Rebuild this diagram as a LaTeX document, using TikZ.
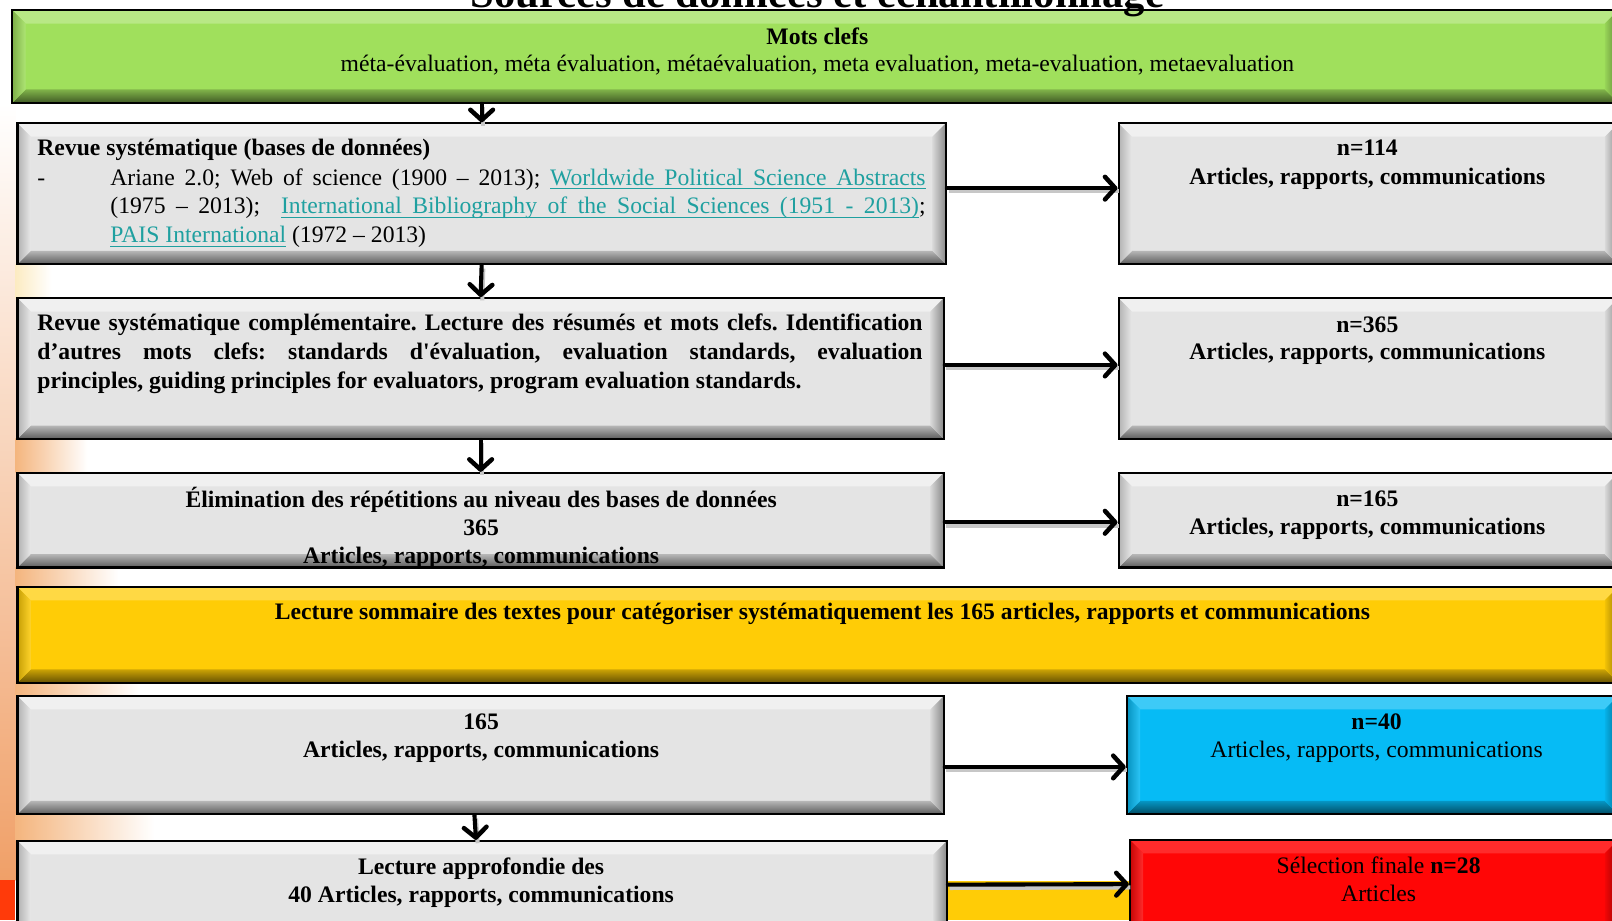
\documentclass[tikz,border=0pt]{standalone}
\usepackage{fontspec}
\setmainfont{Liberation Serif}
\usetikzlibrary{arrows.meta,calc,fit}
\definecolor{boxgray}{HTML}{E4E4E4}
\definecolor{boxgreen}{HTML}{A0E05C}
\definecolor{boxyellow}{HTML}{FFCC06}
\definecolor{boxblue}{HTML}{06BBF5}
\definecolor{boxred}{HTML}{FF0606}
\definecolor{linkc}{HTML}{1FA0A0}
\definecolor{stripmid}{HTML}{F8CDA2}
\definecolor{stripbot}{HTML}{F0A068}
\definecolor{stripred}{HTML}{FF3A0A}
\definecolor{glowA}{HTML}{F4B57E}
\definecolor{glowB}{HTML}{FCEBC2}
\newcommand\lkw[1]{\setbox0\hbox{#1}\rlap{\rule[-2.1pt]{\wd0}{0.6pt}}\box0}
\newcommand\lksp{\leaders\hrule height -1.5pt depth 2.1pt\hskip\fontdimen2\font plus\fontdimen3\font minus\fontdimen4\font\relax}
\def\bvw{6.5pt}
\frenchspacing
\tikzset{
  bevel/.style 2 args={fill=#1, draw=black, line width=1pt, inner sep=0pt,
    path picture={
      \path (path picture bounding box.south west) coordinate (bvsw)
            (path picture bounding box.north east) coordinate (bvne);
      \fill[#1!#2!white] (bvsw|-bvne) -- (bvne) -- ($(bvne)+(-\bvw,-\bvw)$) -- ($(bvsw|-bvne)+(\bvw,-\bvw)$) -- cycle;
      \shade[top color=#1!80!black, bottom color=#1!40!black] (bvsw) -- (bvsw-|bvne) -- ($(bvsw-|bvne)+(-\bvw,\bvw)$) -- ($(bvsw)+(\bvw,\bvw)$) -- cycle;
      \shade[left color=#1!78!black, right color=#1!85!white] (bvsw) -- (bvsw|-bvne) -- ($(bvsw|-bvne)+(\bvw,-\bvw)$) -- ($(bvsw)+(\bvw,\bvw)$) -- cycle;
      \shade[left color=#1!95!black, right color=#1!60!black] (bvsw-|bvne) -- (bvne) -- ($(bvne)+(-\bvw,-\bvw)$) -- ($(bvsw-|bvne)+(-\bvw,\bvw)$) -- cycle;
    }},
  txt/.style={inner sep=0pt, anchor=base, font=\fontsize{11.5pt}{14pt}\selectfont},
  txtb/.style={txt, font=\fontsize{11.5pt}{14pt}\selectfont\bfseries},
  flow/.style={line width=2pt, line cap=round, -{Straight Barb[length=5pt,width=11pt,line width=2.2pt,round]},
    preaction={draw=black!22, line width=2pt, -, transform canvas={shift={(0.8pt,-1.6pt)}}}},
  glow/.style={left color=glowA, middle color=glowB, right color=white}
}
\begin{document}
\begin{tikzpicture}[x=0.5pt,y=-0.5pt]
\useasboundingbox (0,0) rectangle (1568,895);
\begin{scope}
\clip (0,0) rectangle (1568,895);
\fill[white] (0,0) rectangle (1568,895);
% slide background
\shade[top color=white, middle color=stripmid, bottom color=stripbot] (0,100) rectangle (15,856);
\fill[stripred] (0,856) rectangle (15,895);
\shade[left color=glowB, right color=white] (15,257) rectangle (50,290);
\shade[glow] (15,427) rectangle (85,460);
\shade[glow] (15,552) rectangle (115,571);
\shade[glow] (15,664) rectangle (135,677);
\shade[glow] (15,792) rectangle (150,818);
\fill[boxyellow] (921,857) rectangle (1099,895);

% boxes
\node[bevel={boxgreen}{75}, fit={(12,10) (1574,100)}] (green) {};
\node[bevel={boxgray}{55}, fit={(17,120) (920,257)}] (b2) {};
\node[bevel={boxgray}{55}, fit={(1088,120) (1574,257)}] (n114) {};
\node[bevel={boxgray}{55}, fit={(17,290) (918,427)}] (b3) {};
\node[bevel={boxgray}{55}, fit={(1088,290) (1574,427)}] (n365) {};
\node[bevel={boxgray}{55}, fit={(17,460) (918,552)}] (b4) {};
\node[bevel={boxgray}{55}, fit={(1088,460) (1574,552)}] (n165) {};
\node[bevel={boxyellow}{75}, fit={(17,571) (1574,664)}] (yel) {};
\node[bevel={boxgray}{55}, fit={(17,677) (918,792)}] (b5) {};
\node[bevel={boxblue}{78}, fit={(1096,677) (1574,792)}] (blue) {};
\node[bevel={boxgray}{55}, fit={(17,818) (921,935)}] (b6) {};
\node[bevel={boxred}{85}, fit={(1099,817) (1574,935)}] (red) {};

% title
\node[inner sep=0pt, anchor=base, font=\fontsize{20.75pt}{24pt}\selectfont\bfseries] (title) at (795,7) {Sources de données et échantillonnage};

% green
\node[txtb] (g1) at (795,43) {Mots clefs};
\node[txt] (g2) at (795,70) {méta-évaluation, méta évaluation, métaévaluation, meta evaluation, meta-evaluation, metaevaluation};

% b2
\node[txtb, anchor=base west] (r1) at (36,151) {Revue systématique (bases de données)};
\node[txt, anchor=base west] (rdash) at (36,180) {-};
\node[txt, anchor=base west] (r2) at (107,180) {\makebox[396.5pt][s]{Ariane 2.0; Web of science (1900 – 2013); \textcolor{linkc}{\lkw{Worldwide}\lksp\lkw{Political}\lksp\lkw{Science}\lksp\lkw{Abstracts}}}};
\node[txt, anchor=base west] (r3) at (107,208) {\makebox[396.5pt][s]{(1975 – 2013);\ \ \textcolor{linkc}{\lkw{International}\lksp\lkw{Bibliography}\lksp\lkw{of}\lksp\lkw{the}\lksp\lkw{Social}\lksp\lkw{Sciences}\lksp\lkw{(1951}\lksp\lkw{-}\lksp\lkw{2013)}};}};
\node[txt, anchor=base west] (r4) at (107,236) {\textcolor{linkc}{\lkw{PAIS}\lksp\lkw{International}} (1972 – 2013)};

% n114
\node[txtb] (n114a) at (1330,151) {n=114};
\node[txtb] (n114b) at (1330,179) {Articles, rapports, communications};

% b3
\node[txtb, anchor=base west] (c1) at (36,321) {\makebox[430.5pt][s]{Revue systématique complémentaire. Lecture des résumés et mots clefs. Identification}};
\node[txtb, anchor=base west] (c2) at (36,350) {\makebox[430.5pt][s]{d’autres mots clefs: standards d\textquotesingle évaluation, evaluation standards, evaluation}};
\node[txtb, anchor=base west] (c3) at (36,378) {principles, guiding principles for evaluators, program evaluation standards.};

% n365
\node[txtb] (n365a) at (1330,323) {n=365};
\node[txtb] (n365b) at (1330,350) {Articles, rapports, communications};

% b4
\node[txtb] (e1) at (468,494) {Élimination des répétitions au niveau des bases de données};
\node[txtb] (e2) at (468,521) {365};
\node[txtb] (e3) at (468,548) {Articles, rapports, communications};

% n165
\node[txtb] (n165a) at (1330,493) {n=165};
\node[txtb] (n165b) at (1330,520) {Articles, rapports, communications};

% yellow
\node[txtb] (y1) at (800,603) {Lecture sommaire des textes pour catégoriser systématiquement les 165 articles, rapports et communications};

% b5
\node[txtb] (f1) at (468,710) {165};
\node[txtb] (f2) at (468,737) {Articles, rapports, communications};

% blue
\node[txtb] (bl1) at (1339,710) {n=40};
\node[txt] (bl2) at (1339,737) {Articles, rapports, communications};

% b6
\node[txtb] (h1) at (468,851) {Lecture approfondie des};
\node[txtb] (h2) at (468,878) {40 Articles, rapports, communications};

% red
\node[txt] (rd1) at (1341,850) {Sélection finale \textbf{n=28}};
\node[txt] (rd2) at (1341,877) {Articles};

% connectors
\draw[flow] (b2.north |- green.south) -- (b2.north);
\draw[flow] (b2.south) -- (b3.north);
\draw[flow] (b3.south) -- (b4.north);
\draw[flow] ([xshift=-3pt]b5.south) -- ([xshift=-3pt]b6.north);
\draw[flow] ([yshift=2.75pt]b2.east) -- ([yshift=2.75pt]n114.west);
\draw[flow] ([yshift=1.75pt]b3.east) -- ([yshift=1.75pt]n365.west);
\draw[flow] ([yshift=-1pt]b4.east) -- ([yshift=-1pt]n165.west);
\draw[flow] ([yshift=-5.75pt]b5.east) -- ([yshift=-5.75pt]blue.west);
\draw[flow] ([yshift=8pt]b6.east) -- ([yshift=8pt]red.west);
\end{scope}
\end{tikzpicture}
\end{document}
